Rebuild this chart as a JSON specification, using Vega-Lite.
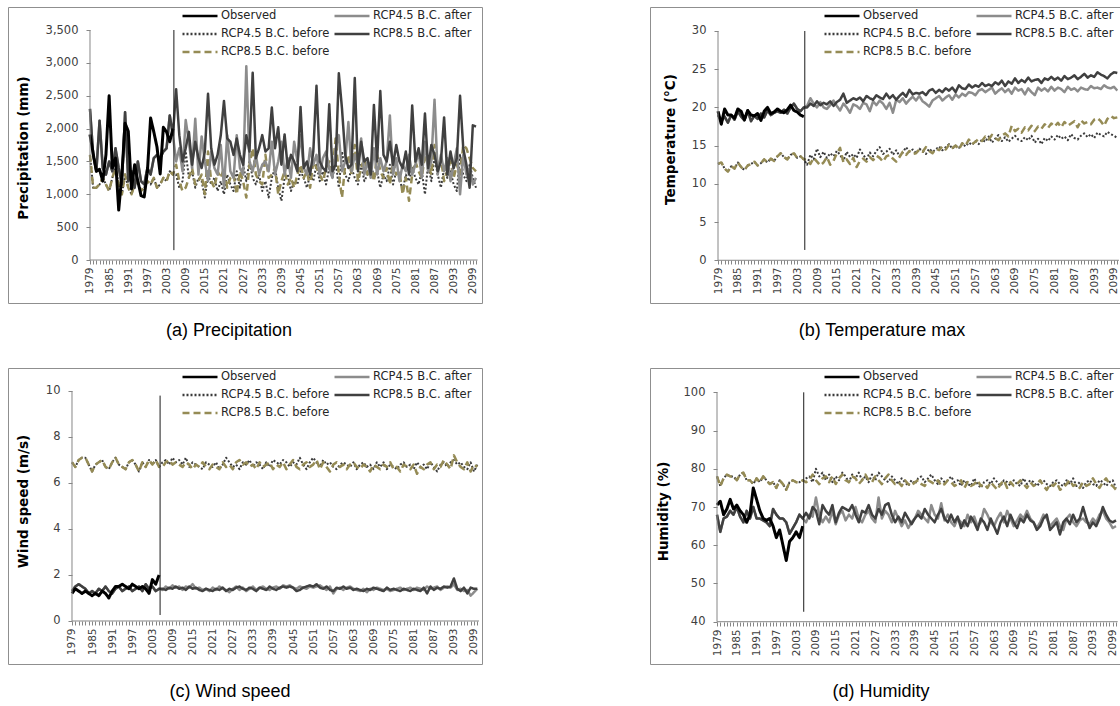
{
"$schema": "https://vega.github.io/schema/vega-lite/v6.json",
"padding": {"left": 7, "top": 6, "right": 0, "bottom": 0},
"background": "white",
"datasets": {
"names": [{"k":"o","s":"Observed"},{"k":"a4","s":"RCP4.5 B.C. after"},{"k":"b4","s":"RCP4.5 B.C. before"},{"k":"a8","s":"RCP8.5 B.C. after"},{"k":"b8","s":"RCP8.5 B.C. before"}],
"a": [
{"t":1979,"o":1910,"a4":2300,"b4":1600,"a8":2300,"b8":1600},
{"t":1980,"o":1620,"a4":1600,"b4":1100,"a8":1600,"b8":1100},
{"t":1981,"o":1350,"a4":1350,"b4":1100,"a8":1350,"b8":1100},
{"t":1982,"o":1380,"a4":2120,"b4":1150,"a8":2120,"b8":1150},
{"t":1983,"o":1200,"a4":1400,"b4":1250,"a8":1400,"b8":1250},
{"t":1984,"o":1600,"a4":1300,"b4":1150,"a8":1300,"b8":1150},
{"t":1985,"o":2500,"a4":1500,"b4":1050,"a8":1500,"b8":1050},
{"t":1986,"o":1400,"a4":1350,"b4":1250,"a8":1350,"b8":1250},
{"t":1987,"o":1550,"a4":1700,"b4":1400,"a8":1700,"b8":1400},
{"t":1988,"o":760,"a4":1400,"b4":1150,"a8":1400,"b8":1150},
{"t":1989,"o":1300,"a4":1150,"b4":1000,"a8":1150,"b8":1000},
{"t":1990,"o":2080,"a4":2250,"b4":1300,"a8":2250,"b8":1300},
{"t":1991,"o":1960,"a4":1200,"b4":1100,"a8":1200,"b8":1100},
{"t":1992,"o":1080,"a4":1350,"b4":1000,"a8":1350,"b8":1000},
{"t":1993,"o":1450,"a4":1100,"b4":1150,"a8":1100,"b8":1150},
{"t":1994,"o":1200,"a4":1500,"b4":1200,"a8":1500,"b8":1200},
{"t":1995,"o":980,"a4":1200,"b4":1050,"a8":1200,"b8":1050},
{"t":1996,"o":960,"a4":1150,"b4":1100,"a8":1150,"b8":1100},
{"t":1997,"o":1350,"a4":1400,"b4":1200,"a8":1400,"b8":1200},
{"t":1998,"o":2160,"a4":1300,"b4":1150,"a8":1300,"b8":1150},
{"t":1999,"o":1950,"a4":1550,"b4":1250,"a8":1550,"b8":1250},
{"t":2000,"o":1720,"a4":1600,"b4":1100,"a8":1600,"b8":1100},
{"t":2001,"o":1310,"a4":1550,"b4":1150,"a8":1550,"b8":1150},
{"t":2002,"o":2020,"a4":1650,"b4":1250,"a8":1650,"b8":1250},
{"t":2003,"o":1950,"a4":1700,"b4":1200,"a8":1700,"b8":1200},
{"t":2004,"o":1800,"a4":2200,"b4":1350,"a8":2200,"b8":1350},
{"t":2005,"o":2000,"a4":1900,"b4":1300,"a8":1900,"b8":1300},
{"t":2006,"a4":1500,"b4":1300,"a8":2600,"b8":1450},
{"t":2007,"a4":1700,"b4":1100,"a8":1900,"b8":1200},
{"t":2008,"a4":1350,"b4":1200,"a8":1500,"b8":1050},
{"t":2009,"a4":2130,"b4":1650,"a8":1700,"b8":1100},
{"t":2010,"a4":1800,"b4":1250,"a8":1950,"b8":1250},
{"t":2011,"a4":1400,"b4":1350,"a8":1450,"b8":1400},
{"t":2012,"a4":2150,"b4":1100,"a8":1800,"b8":1150},
{"t":2013,"a4":1300,"b4":1250,"a8":1550,"b8":1200},
{"t":2014,"a4":1880,"b4":1200,"a8":1400,"b8":1300},
{"t":2015,"a4":1500,"b4":950,"a8":1650,"b8":1000},
{"t":2016,"a4":1200,"b4":1300,"a8":2530,"b8":1650},
{"t":2017,"a4":1650,"b4":1150,"a8":1700,"b8":1200},
{"t":2018,"a4":1400,"b4":1250,"a8":1450,"b8":1100},
{"t":2019,"a4":1300,"b4":1050,"a8":1600,"b8":1350},
{"t":2020,"a4":1750,"b4":1200,"a8":1900,"b8":1250},
{"t":2021,"a4":1100,"b4":1000,"a8":2420,"b8":1400},
{"t":2022,"a4":1900,"b4":1300,"a8":1850,"b8":1100},
{"t":2023,"a4":1350,"b4":1150,"a8":1800,"b8":1250},
{"t":2024,"a4":1250,"b4":1050,"a8":1600,"b8":1300},
{"t":2025,"a4":1900,"b4":1350,"a8":1850,"b8":1000},
{"t":2026,"a4":1400,"b4":1100,"a8":1600,"b8":1350},
{"t":2027,"a4":1300,"b4":1450,"a8":1450,"b8":1200},
{"t":2028,"a4":2950,"b4":1200,"a8":1900,"b8":950},
{"t":2029,"a4":1500,"b4":1500,"a8":1650,"b8":1450},
{"t":2030,"a4":1350,"b4":1250,"a8":2850,"b8":1700},
{"t":2031,"a4":1600,"b4":1150,"a8":1550,"b8":1300},
{"t":2032,"a4":1300,"b4":1300,"a8":1700,"b8":1200},
{"t":2033,"a4":1450,"b4":1050,"a8":1900,"b8":1150},
{"t":2034,"a4":1500,"b4":1200,"a8":1650,"b8":1600},
{"t":2035,"a4":1350,"b4":950,"a8":1700,"b8":1250},
{"t":2036,"a4":1800,"b4":1250,"a8":2320,"b8":1300},
{"t":2037,"a4":1300,"b4":1400,"a8":1700,"b8":1400},
{"t":2038,"a4":1500,"b4":1100,"a8":2020,"b8":1000},
{"t":2039,"a4":1800,"b4":900,"a8":1450,"b8":1200},
{"t":2040,"a4":1300,"b4":1250,"a8":1910,"b8":1350},
{"t":2041,"a4":1550,"b4":1300,"a8":1400,"b8":1150},
{"t":2042,"a4":1250,"b4":1050,"a8":1600,"b8":1250},
{"t":2043,"a4":1800,"b4":1200,"a8":1500,"b8":1100},
{"t":2044,"a4":1500,"b4":1150,"a8":1350,"b8":1300},
{"t":2045,"a4":1900,"b4":1350,"a8":2330,"b8":1450},
{"t":2046,"a4":1400,"b4":1250,"a8":1400,"b8":1250},
{"t":2047,"a4":1300,"b4":1100,"a8":1500,"b8":1350},
{"t":2048,"a4":1700,"b4":1300,"a8":1300,"b8":1100},
{"t":2049,"a4":1450,"b4":1200,"a8":1650,"b8":1500},
{"t":2050,"a4":1600,"b4":1450,"a8":2650,"b8":1400},
{"t":2051,"a4":1300,"b4":1200,"a8":1500,"b8":1300},
{"t":2052,"a4":1550,"b4":1350,"a8":1400,"b8":1200},
{"t":2053,"a4":1650,"b4":1150,"a8":1350,"b8":1400},
{"t":2054,"a4":1400,"b4":1400,"a8":2370,"b8":1500},
{"t":2055,"a4":1250,"b4":1250,"a8":1350,"b8":1350},
{"t":2056,"a4":1700,"b4":1500,"a8":1450,"b8":1850},
{"t":2057,"a4":1900,"b4":1100,"a8":2840,"b8":1300},
{"t":2058,"a4":1350,"b4":1650,"a8":2300,"b8":950},
{"t":2059,"a4":1500,"b4":1300,"a8":1600,"b8":1450},
{"t":2060,"a4":2100,"b4":1200,"a8":1400,"b8":1600},
{"t":2061,"a4":1350,"b4":1400,"a8":1450,"b8":1300},
{"t":2062,"a4":1600,"b4":1250,"a8":2770,"b8":1750},
{"t":2063,"a4":1450,"b4":1150,"a8":1350,"b8":1200},
{"t":2064,"a4":1850,"b4":1450,"a8":1800,"b8":1400},
{"t":2065,"a4":1300,"b4":1200,"a8":1500,"b8":1550},
{"t":2066,"a4":1500,"b4":1300,"a8":1550,"b8":1300},
{"t":2067,"a4":1250,"b4":1500,"a8":1300,"b8":1450},
{"t":2068,"a4":1700,"b4":1250,"a8":2360,"b8":1200},
{"t":2069,"a4":1300,"b4":1350,"a8":1500,"b8":1600},
{"t":2070,"a4":1550,"b4":1100,"a8":2570,"b8":1350},
{"t":2071,"a4":1350,"b4":1300,"a8":1600,"b8":1250},
{"t":2072,"a4":1500,"b4":1200,"a8":1500,"b8":1400},
{"t":2073,"a4":2200,"b4":1450,"a8":1800,"b8":1150},
{"t":2074,"a4":1300,"b4":1150,"a8":1450,"b8":1500},
{"t":2075,"a4":1550,"b4":1350,"a8":1750,"b8":1300},
{"t":2076,"a4":1200,"b4":1250,"a8":1500,"b8":1350},
{"t":2077,"a4":1450,"b4":1050,"a8":1400,"b8":1000},
{"t":2078,"a4":1350,"b4":1300,"a8":1650,"b8":1250},
{"t":2079,"a4":1600,"b4":1200,"a8":1300,"b8":900},
{"t":2080,"a4":1300,"b4":1400,"a8":2350,"b8":1300},
{"t":2081,"a4":1450,"b4":1250,"a8":1500,"b8":1500},
{"t":2082,"a4":1650,"b4":1150,"a8":1700,"b8":1350},
{"t":2083,"a4":1250,"b4":1350,"a8":1450,"b8":1250},
{"t":2084,"a4":1800,"b4":1000,"a8":2230,"b8":1600},
{"t":2085,"a4":1350,"b4":1450,"a8":1400,"b8":1450},
{"t":2086,"a4":1500,"b4":1200,"a8":1750,"b8":1300},
{"t":2087,"a4":2440,"b4":1550,"a8":1600,"b8":1750},
{"t":2088,"a4":1300,"b4":1300,"a8":1350,"b8":1400},
{"t":2089,"a4":1600,"b4":1100,"a8":1500,"b8":1550},
{"t":2090,"a4":1350,"b4":1400,"a8":2170,"b8":1200},
{"t":2091,"a4":1550,"b4":1250,"a8":1300,"b8":1350},
{"t":2092,"a4":1200,"b4":1350,"a8":1650,"b8":1500},
{"t":2093,"a4":1450,"b4":1150,"a8":1400,"b8":1250},
{"t":2094,"a4":1700,"b4":1050,"a8":1550,"b8":1450},
{"t":2095,"a4":1000,"b4":1600,"a8":2500,"b8":1300},
{"t":2096,"a4":1600,"b4":1300,"a8":1700,"b8":1750},
{"t":2097,"a4":1300,"b4":1200,"a8":1450,"b8":1700},
{"t":2098,"a4":1400,"b4":1450,"a8":1100,"b8":1550},
{"t":2099,"a4":1150,"b4":1250,"a8":2050,"b8":1400},
{"t":2100,"a4":1250,"b4":1100,"a8":2030,"b8":1350}
],
"b": [
{"t":1979,"o":19.5,"a4":19.0,"b4":12.6,"a8":19.0,"b8":12.6},
{"t":1980,"o":17.8,"a4":18.2,"b4":12.8,"a8":18.2,"b8":12.8},
{"t":1981,"o":19.8,"a4":18.8,"b4":12.0,"a8":18.8,"b8":12.0},
{"t":1982,"o":19.0,"a4":18.0,"b4":11.6,"a8":18.0,"b8":11.6},
{"t":1983,"o":19.0,"a4":19.0,"b4":12.3,"a8":19.0,"b8":12.3},
{"t":1984,"o":18.6,"a4":18.4,"b4":12.0,"a8":18.4,"b8":12.0},
{"t":1985,"o":19.8,"a4":19.5,"b4":12.8,"a8":19.5,"b8":12.8},
{"t":1986,"o":19.5,"a4":18.8,"b4":12.2,"a8":18.8,"b8":12.2},
{"t":1987,"o":18.4,"a4":18.3,"b4":11.8,"a8":18.3,"b8":11.8},
{"t":1988,"o":19.6,"a4":19.6,"b4":12.4,"a8":19.6,"b8":12.4},
{"t":1989,"o":19.0,"a4":18.2,"b4":12.6,"a8":18.2,"b8":12.6},
{"t":1990,"o":18.9,"a4":18.9,"b4":12.9,"a8":18.9,"b8":12.9},
{"t":1991,"o":19.2,"a4":18.5,"b4":12.4,"a8":18.5,"b8":12.4},
{"t":1992,"o":18.3,"a4":19.2,"b4":12.7,"a8":19.2,"b8":12.7},
{"t":1993,"o":19.5,"a4":18.7,"b4":13.2,"a8":18.7,"b8":13.2},
{"t":1994,"o":20.0,"a4":19.6,"b4":12.8,"a8":19.6,"b8":12.8},
{"t":1995,"o":19.2,"a4":19.0,"b4":13.3,"a8":19.0,"b8":13.3},
{"t":1996,"o":19.4,"a4":19.3,"b4":13.0,"a8":19.3,"b8":13.0},
{"t":1997,"o":19.8,"a4":19.5,"b4":13.6,"a8":19.5,"b8":13.6},
{"t":1998,"o":19.5,"a4":19.3,"b4":14.0,"a8":19.3,"b8":14.0},
{"t":1999,"o":19.3,"a4":19.7,"b4":13.5,"a8":19.7,"b8":13.5},
{"t":2000,"o":19.7,"a4":19.2,"b4":13.2,"a8":19.2,"b8":13.2},
{"t":2001,"o":20.3,"a4":20.0,"b4":13.8,"a8":20.0,"b8":13.8},
{"t":2002,"o":19.6,"a4":20.5,"b4":14.0,"a8":20.5,"b8":14.0},
{"t":2003,"o":19.4,"a4":19.8,"b4":13.4,"a8":19.8,"b8":13.4},
{"t":2004,"o":19.0,"a4":19.5,"b4":13.6,"a8":19.5,"b8":13.6},
{"t":2005,"o":18.8,"a4":20.0,"b4":13.2,"a8":20.0,"b8":13.2},
{"t":2006,"a4":20.2,"b4":12.5,"a8":20.0,"b8":13.2},
{"t":2007,"a4":21.2,"b4":13.8,"a8":20.5,"b8":12.6},
{"t":2008,"a4":20.5,"b4":13.2,"a8":20.2,"b8":13.4},
{"t":2009,"a4":20.0,"b4":14.6,"a8":20.8,"b8":12.9},
{"t":2010,"a4":20.7,"b4":13.5,"a8":20.3,"b8":12.4},
{"t":2011,"a4":20.0,"b4":14.2,"a8":20.6,"b8":12.8},
{"t":2012,"a4":19.8,"b4":13.4,"a8":20.4,"b8":13.5},
{"t":2013,"a4":20.3,"b4":14.0,"a8":20.8,"b8":12.5},
{"t":2014,"a4":20.9,"b4":13.6,"a8":20.2,"b8":13.0},
{"t":2015,"a4":20.2,"b4":14.3,"a8":20.7,"b8":14.0},
{"t":2016,"a4":19.6,"b4":13.8,"a8":21.0,"b8":14.7},
{"t":2017,"a4":20.5,"b4":13.0,"a8":21.8,"b8":12.8},
{"t":2018,"a4":20.0,"b4":14.2,"a8":20.6,"b8":13.2},
{"t":2019,"a4":19.3,"b4":13.5,"a8":20.9,"b8":12.6},
{"t":2020,"a4":20.4,"b4":13.9,"a8":21.2,"b8":13.4},
{"t":2021,"a4":20.2,"b4":13.4,"a8":21.0,"b8":12.2},
{"t":2022,"a4":19.8,"b4":14.5,"a8":21.3,"b8":13.0},
{"t":2023,"a4":20.6,"b4":13.8,"a8":20.8,"b8":13.3},
{"t":2024,"a4":20.4,"b4":13.2,"a8":21.5,"b8":12.9},
{"t":2025,"a4":19.5,"b4":14.1,"a8":21.2,"b8":13.5},
{"t":2026,"a4":20.8,"b4":13.6,"a8":21.0,"b8":13.1},
{"t":2027,"a4":20.3,"b4":14.3,"a8":21.6,"b8":13.7},
{"t":2028,"a4":20.9,"b4":14.8,"a8":21.3,"b8":13.4},
{"t":2029,"a4":20.5,"b4":13.9,"a8":21.1,"b8":12.9},
{"t":2030,"a4":19.8,"b4":14.2,"a8":21.8,"b8":13.6},
{"t":2031,"a4":20.6,"b4":14.6,"a8":21.2,"b8":13.8},
{"t":2032,"a4":19.3,"b4":13.8,"a8":21.6,"b8":13.3},
{"t":2033,"a4":21.0,"b4":14.4,"a8":21.0,"b8":12.9},
{"t":2034,"a4":20.7,"b4":13.6,"a8":21.5,"b8":13.5},
{"t":2035,"a4":21.2,"b4":14.1,"a8":21.9,"b8":14.2},
{"t":2036,"a4":20.5,"b4":14.8,"a8":21.4,"b8":13.8},
{"t":2037,"a4":21.0,"b4":14.2,"a8":22.3,"b8":14.3},
{"t":2038,"a4":21.4,"b4":14.5,"a8":21.7,"b8":13.9},
{"t":2039,"a4":20.9,"b4":14.0,"a8":21.9,"b8":14.0},
{"t":2040,"a4":21.5,"b4":14.6,"a8":21.8,"b8":14.5},
{"t":2041,"a4":20.8,"b4":14.3,"a8":22.0,"b8":14.2},
{"t":2042,"a4":20.5,"b4":13.9,"a8":21.6,"b8":14.8},
{"t":2043,"a4":20.1,"b4":14.6,"a8":22.2,"b8":14.3},
{"t":2044,"a4":20.9,"b4":14.2,"a8":22.4,"b8":14.0},
{"t":2045,"a4":21.2,"b4":14.5,"a8":21.9,"b8":14.6},
{"t":2046,"a4":21.5,"b4":14.9,"a8":22.3,"b8":14.4},
{"t":2047,"a4":20.9,"b4":14.4,"a8":22.0,"b8":14.9},
{"t":2048,"a4":21.3,"b4":14.8,"a8":22.5,"b8":14.5},
{"t":2049,"a4":21.6,"b4":15.2,"a8":22.2,"b8":15.1},
{"t":2050,"a4":21.0,"b4":14.6,"a8":22.6,"b8":14.7},
{"t":2051,"a4":21.7,"b4":15.0,"a8":22.0,"b8":15.0},
{"t":2052,"a4":21.3,"b4":14.7,"a8":22.9,"b8":14.5},
{"t":2053,"a4":21.8,"b4":15.3,"a8":22.5,"b8":15.3},
{"t":2054,"a4":21.5,"b4":14.9,"a8":22.4,"b8":15.0},
{"t":2055,"a4":22.0,"b4":15.4,"a8":23.0,"b8":15.8},
{"t":2056,"a4":21.9,"b4":15.1,"a8":22.6,"b8":15.2},
{"t":2057,"a4":21.6,"b4":15.6,"a8":22.9,"b8":15.5},
{"t":2058,"a4":22.2,"b4":15.2,"a8":22.7,"b8":15.9},
{"t":2059,"a4":22.4,"b4":15.8,"a8":23.2,"b8":15.6},
{"t":2060,"a4":22.0,"b4":15.5,"a8":22.8,"b8":16.2},
{"t":2061,"a4":22.3,"b4":16.2,"a8":23.0,"b8":15.8},
{"t":2062,"a4":22.6,"b4":15.4,"a8":22.8,"b8":16.4},
{"t":2063,"a4":21.8,"b4":15.9,"a8":23.3,"b8":16.0},
{"t":2064,"a4":22.2,"b4":16.4,"a8":23.0,"b8":15.7},
{"t":2065,"a4":22.5,"b4":15.6,"a8":23.5,"b8":16.3},
{"t":2066,"a4":22.0,"b4":16.1,"a8":22.8,"b8":16.6},
{"t":2067,"a4":22.4,"b4":15.5,"a8":23.4,"b8":16.2},
{"t":2068,"a4":21.8,"b4":15.9,"a8":23.1,"b8":17.6},
{"t":2069,"a4":22.6,"b4":16.3,"a8":23.8,"b8":16.9},
{"t":2070,"a4":22.2,"b4":15.8,"a8":23.2,"b8":17.2},
{"t":2071,"a4":22.4,"b4":15.6,"a8":23.6,"b8":16.7},
{"t":2072,"a4":21.7,"b4":16.1,"a8":23.3,"b8":17.4},
{"t":2073,"a4":22.5,"b4":15.7,"a8":23.9,"b8":17.0},
{"t":2074,"a4":22.0,"b4":16.3,"a8":23.4,"b8":17.6},
{"t":2075,"a4":21.6,"b4":15.4,"a8":23.6,"b8":16.9},
{"t":2076,"a4":22.6,"b4":15.9,"a8":23.7,"b8":17.5},
{"t":2077,"a4":22.2,"b4":15.2,"a8":23.2,"b8":17.2},
{"t":2078,"a4":22.5,"b4":16.0,"a8":23.8,"b8":17.8},
{"t":2079,"a4":22.1,"b4":15.6,"a8":23.6,"b8":17.3},
{"t":2080,"a4":22.7,"b4":16.2,"a8":24.0,"b8":17.9},
{"t":2081,"a4":22.2,"b4":15.8,"a8":23.6,"b8":17.5},
{"t":2082,"a4":22.6,"b4":16.4,"a8":23.9,"b8":18.0},
{"t":2083,"a4":22.4,"b4":15.9,"a8":23.5,"b8":17.4},
{"t":2084,"a4":22.0,"b4":16.2,"a8":24.1,"b8":18.1},
{"t":2085,"a4":22.7,"b4":15.7,"a8":23.7,"b8":17.6},
{"t":2086,"a4":22.3,"b4":16.5,"a8":23.9,"b8":17.9},
{"t":2087,"a4":22.5,"b4":16.0,"a8":24.2,"b8":18.2},
{"t":2088,"a4":22.1,"b4":15.8,"a8":23.7,"b8":17.4},
{"t":2089,"a4":22.6,"b4":16.3,"a8":24.0,"b8":18.3},
{"t":2090,"a4":22.4,"b4":16.6,"a8":24.4,"b8":17.9},
{"t":2091,"a4":22.3,"b4":16.1,"a8":23.9,"b8":18.1},
{"t":2092,"a4":22.8,"b4":16.5,"a8":24.2,"b8":17.8},
{"t":2093,"a4":22.5,"b4":16.0,"a8":24.0,"b8":18.4},
{"t":2094,"a4":22.6,"b4":16.7,"a8":24.6,"b8":18.6},
{"t":2095,"a4":22.4,"b4":16.4,"a8":24.3,"b8":18.2},
{"t":2096,"a4":22.9,"b4":16.2,"a8":24.1,"b8":17.6},
{"t":2097,"a4":22.6,"b4":16.8,"a8":23.8,"b8":18.5},
{"t":2098,"a4":22.5,"b4":16.5,"a8":24.3,"b8":18.9},
{"t":2099,"a4":22.7,"b4":16.3,"a8":24.6,"b8":18.6},
{"t":2100,"a4":22.2,"b4":16.0,"a8":24.5,"b8":18.7}
],
"c": [
{"t":1979,"o":1.2,"a4":1.3,"b4":6.9,"a8":1.3,"b8":6.9},
{"t":1980,"o":1.4,"a4":1.5,"b4":6.7,"a8":1.5,"b8":6.7},
{"t":1981,"o":1.3,"a4":1.6,"b4":7.0,"a8":1.6,"b8":7.0},
{"t":1982,"o":1.2,"a4":1.5,"b4":7.1,"a8":1.5,"b8":7.1},
{"t":1983,"o":1.3,"a4":1.4,"b4":7.1,"a8":1.4,"b8":7.1},
{"t":1984,"o":1.2,"a4":1.2,"b4":6.8,"a8":1.2,"b8":6.8},
{"t":1985,"o":1.1,"a4":1.3,"b4":6.5,"a8":1.3,"b8":6.5},
{"t":1986,"o":1.2,"a4":1.2,"b4":6.8,"a8":1.2,"b8":6.8},
{"t":1987,"o":1.1,"a4":1.4,"b4":6.9,"a8":1.4,"b8":6.9},
{"t":1988,"o":1.3,"a4":1.3,"b4":7.0,"a8":1.3,"b8":7.0},
{"t":1989,"o":1.2,"a4":1.5,"b4":6.7,"a8":1.5,"b8":6.7},
{"t":1990,"o":1.0,"a4":1.3,"b4":6.6,"a8":1.3,"b8":6.6},
{"t":1991,"o":1.3,"a4":1.2,"b4":6.9,"a8":1.2,"b8":6.9},
{"t":1992,"o":1.5,"a4":1.4,"b4":7.1,"a8":1.4,"b8":7.1},
{"t":1993,"o":1.5,"a4":1.5,"b4":6.8,"a8":1.5,"b8":6.8},
{"t":1994,"o":1.6,"a4":1.3,"b4":6.7,"a8":1.3,"b8":6.7},
{"t":1995,"o":1.5,"a4":1.4,"b4":6.6,"a8":1.4,"b8":6.6},
{"t":1996,"o":1.4,"a4":1.5,"b4":6.9,"a8":1.5,"b8":6.9},
{"t":1997,"o":1.6,"a4":1.3,"b4":7.0,"a8":1.3,"b8":7.0},
{"t":1998,"o":1.5,"a4":1.4,"b4":6.8,"a8":1.4,"b8":6.8},
{"t":1999,"o":1.4,"a4":1.5,"b4":6.5,"a8":1.5,"b8":6.5},
{"t":2000,"o":1.5,"a4":1.3,"b4":6.9,"a8":1.3,"b8":6.9},
{"t":2001,"o":1.4,"a4":1.6,"b4":6.7,"a8":1.6,"b8":6.7},
{"t":2002,"o":1.2,"a4":1.4,"b4":7.0,"a8":1.4,"b8":7.0},
{"t":2003,"o":1.8,"a4":1.5,"b4":6.8,"a8":1.5,"b8":6.8},
{"t":2004,"o":1.6,"a4":1.3,"b4":7.0,"a8":1.3,"b8":7.0},
{"t":2005,"o":2.0,"a4":1.4,"b4":6.7,"a8":1.4,"b8":6.7},
{"t":2006,"a4":1.35,"b4":6.9,"a8":1.4,"b8":6.7},
{"t":2007,"a4":1.5,"b4":7.0,"a8":1.35,"b8":6.9},
{"t":2008,"a4":1.4,"b4":6.8,"a8":1.45,"b8":7.0},
{"t":2009,"a4":1.55,"b4":7.1,"a8":1.4,"b8":6.8},
{"t":2010,"a4":1.45,"b4":6.9,"a8":1.5,"b8":6.9},
{"t":2011,"a4":1.5,"b4":7.0,"a8":1.4,"b8":6.8},
{"t":2012,"a4":1.35,"b4":6.8,"a8":1.45,"b8":6.7},
{"t":2013,"a4":1.5,"b4":7.1,"a8":1.35,"b8":6.9},
{"t":2014,"a4":1.45,"b4":6.7,"a8":1.5,"b8":6.8},
{"t":2015,"a4":1.6,"b4":6.9,"a8":1.4,"b8":6.6},
{"t":2016,"a4":1.4,"b4":6.8,"a8":1.45,"b8":6.8},
{"t":2017,"a4":1.45,"b4":6.7,"a8":1.35,"b8":6.7},
{"t":2018,"a4":1.35,"b4":6.6,"a8":1.3,"b8":6.9},
{"t":2019,"a4":1.4,"b4":6.9,"a8":1.4,"b8":6.7},
{"t":2020,"a4":1.3,"b4":6.8,"a8":1.35,"b8":6.6},
{"t":2021,"a4":1.45,"b4":6.7,"a8":1.3,"b8":6.8},
{"t":2022,"a4":1.35,"b4":6.9,"a8":1.4,"b8":6.7},
{"t":2023,"a4":1.5,"b4":6.6,"a8":1.35,"b8":6.6},
{"t":2024,"a4":1.4,"b4":6.8,"a8":1.45,"b8":6.9},
{"t":2025,"a4":1.35,"b4":7.1,"a8":1.3,"b8":6.7},
{"t":2026,"a4":1.25,"b4":6.9,"a8":1.4,"b8":6.8},
{"t":2027,"a4":1.4,"b4":6.7,"a8":1.35,"b8":6.6},
{"t":2028,"a4":1.5,"b4":6.8,"a8":1.45,"b8":6.9},
{"t":2029,"a4":1.35,"b4":6.6,"a8":1.5,"b8":7.0},
{"t":2030,"a4":1.45,"b4":6.9,"a8":1.4,"b8":6.8},
{"t":2031,"a4":1.3,"b4":6.8,"a8":1.35,"b8":6.9},
{"t":2032,"a4":1.4,"b4":7.0,"a8":1.45,"b8":6.7},
{"t":2033,"a4":1.5,"b4":6.7,"a8":1.4,"b8":6.8},
{"t":2034,"a4":1.35,"b4":6.9,"a8":1.3,"b8":6.6},
{"t":2035,"a4":1.45,"b4":6.8,"a8":1.45,"b8":6.9},
{"t":2036,"a4":1.5,"b4":6.6,"a8":1.4,"b8":6.7},
{"t":2037,"a4":1.4,"b4":6.9,"a8":1.35,"b8":6.8},
{"t":2038,"a4":1.35,"b4":6.7,"a8":1.5,"b8":6.9},
{"t":2039,"a4":1.45,"b4":7.0,"a8":1.4,"b8":6.6},
{"t":2040,"a4":1.5,"b4":6.9,"a8":1.35,"b8":6.8},
{"t":2041,"a4":1.4,"b4":6.8,"a8":1.45,"b8":6.7},
{"t":2042,"a4":1.55,"b4":7.0,"a8":1.5,"b8":6.9},
{"t":2043,"a4":1.5,"b4":6.9,"a8":1.45,"b8":6.6},
{"t":2044,"a4":1.55,"b4":6.7,"a8":1.5,"b8":6.8},
{"t":2045,"a4":1.45,"b4":6.9,"a8":1.45,"b8":7.0},
{"t":2046,"a4":1.4,"b4":6.8,"a8":1.3,"b8":6.7},
{"t":2047,"a4":1.5,"b4":7.1,"a8":1.35,"b8":6.6},
{"t":2048,"a4":1.45,"b4":6.8,"a8":1.45,"b8":6.8},
{"t":2049,"a4":1.4,"b4":6.6,"a8":1.5,"b8":6.9},
{"t":2050,"a4":1.5,"b4":6.9,"a8":1.55,"b8":6.7},
{"t":2051,"a4":1.45,"b4":7.1,"a8":1.5,"b8":6.8},
{"t":2052,"a4":1.5,"b4":6.9,"a8":1.6,"b8":7.0},
{"t":2053,"a4":1.55,"b4":6.7,"a8":1.45,"b8":6.6},
{"t":2054,"a4":1.45,"b4":7.0,"a8":1.4,"b8":6.9},
{"t":2055,"a4":1.35,"b4":6.8,"a8":1.5,"b8":6.7},
{"t":2056,"a4":1.5,"b4":6.9,"a8":1.35,"b8":6.5},
{"t":2057,"a4":1.2,"b4":6.7,"a8":1.3,"b8":6.8},
{"t":2058,"a4":1.4,"b4":6.6,"a8":1.45,"b8":6.9},
{"t":2059,"a4":1.45,"b4":6.8,"a8":1.4,"b8":6.7},
{"t":2060,"a4":1.35,"b4":6.9,"a8":1.5,"b8":6.8},
{"t":2061,"a4":1.45,"b4":6.8,"a8":1.4,"b8":6.6},
{"t":2062,"a4":1.5,"b4":6.7,"a8":1.45,"b8":6.8},
{"t":2063,"a4":1.4,"b4":6.9,"a8":1.35,"b8":6.9},
{"t":2064,"a4":1.35,"b4":6.6,"a8":1.4,"b8":6.7},
{"t":2065,"a4":1.3,"b4":6.8,"a8":1.35,"b8":6.6},
{"t":2066,"a4":1.4,"b4":6.9,"a8":1.3,"b8":6.8},
{"t":2067,"a4":1.25,"b4":6.7,"a8":1.4,"b8":6.7},
{"t":2068,"a4":1.4,"b4":6.8,"a8":1.35,"b8":6.5},
{"t":2069,"a4":1.35,"b4":6.6,"a8":1.45,"b8":6.8},
{"t":2070,"a4":1.45,"b4":6.9,"a8":1.4,"b8":6.7},
{"t":2071,"a4":1.4,"b4":6.7,"a8":1.35,"b8":6.6},
{"t":2072,"a4":1.35,"b4":6.9,"a8":1.3,"b8":6.8},
{"t":2073,"a4":1.4,"b4":6.6,"a8":1.45,"b8":6.7},
{"t":2074,"a4":1.3,"b4":6.8,"a8":1.35,"b8":6.9},
{"t":2075,"a4":1.35,"b4":6.7,"a8":1.4,"b8":6.6},
{"t":2076,"a4":1.4,"b4":6.6,"a8":1.35,"b8":6.7},
{"t":2077,"a4":1.45,"b4":6.8,"a8":1.3,"b8":6.5},
{"t":2078,"a4":1.35,"b4":6.9,"a8":1.4,"b8":6.8},
{"t":2079,"a4":1.4,"b4":6.7,"a8":1.35,"b8":6.7},
{"t":2080,"a4":1.45,"b4":6.8,"a8":1.3,"b8":6.6},
{"t":2081,"a4":1.35,"b4":6.6,"a8":1.4,"b8":6.8},
{"t":2082,"a4":1.45,"b4":6.9,"a8":1.35,"b8":6.4},
{"t":2083,"a4":1.4,"b4":6.7,"a8":1.3,"b8":6.7},
{"t":2084,"a4":1.35,"b4":6.8,"a8":1.45,"b8":6.6},
{"t":2085,"a4":1.5,"b4":6.6,"a8":1.2,"b8":6.8},
{"t":2086,"a4":1.4,"b4":6.9,"a8":1.5,"b8":6.9},
{"t":2087,"a4":1.45,"b4":6.7,"a8":1.35,"b8":6.6},
{"t":2088,"a4":1.5,"b4":6.5,"a8":1.45,"b8":6.8},
{"t":2089,"a4":1.35,"b4":6.8,"a8":1.4,"b8":6.7},
{"t":2090,"a4":1.45,"b4":6.9,"a8":1.5,"b8":7.0},
{"t":2091,"a4":1.5,"b4":6.7,"a8":1.45,"b8":6.8},
{"t":2092,"a4":1.45,"b4":6.9,"a8":1.5,"b8":6.6},
{"t":2093,"a4":1.6,"b4":7.0,"a8":1.85,"b8":7.2},
{"t":2094,"a4":1.35,"b4":6.8,"a8":1.4,"b8":6.9},
{"t":2095,"a4":1.4,"b4":6.9,"a8":1.3,"b8":6.7},
{"t":2096,"a4":1.3,"b4":6.7,"a8":1.45,"b8":6.6},
{"t":2097,"a4":1.35,"b4":6.6,"a8":1.2,"b8":6.9},
{"t":2098,"a4":1.1,"b4":6.9,"a8":1.45,"b8":6.5},
{"t":2099,"a4":1.25,"b4":6.5,"a8":1.4,"b8":6.8},
{"t":2100,"a4":1.4,"b4":6.8,"a8":1.4,"b8":6.7}
],
"d": [
{"t":1979,"o":70.5,"a4":68,"b4":78,"a8":68,"b8":78},
{"t":1980,"o":71.5,"a4":63.5,"b4":75.5,"a8":63.5,"b8":75.5},
{"t":1981,"o":68,"a4":67,"b4":77.5,"a8":67,"b8":77.5},
{"t":1982,"o":69.5,"a4":67.5,"b4":78.5,"a8":67.5,"b8":78.5},
{"t":1983,"o":72,"a4":69,"b4":78,"a8":69,"b8":78},
{"t":1984,"o":69.5,"a4":68,"b4":78,"a8":68,"b8":78},
{"t":1985,"o":70.5,"a4":70,"b4":77,"a8":70,"b8":77},
{"t":1986,"o":69,"a4":67.5,"b4":78.5,"a8":67.5,"b8":78.5},
{"t":1987,"o":68,"a4":66,"b4":79,"a8":66,"b8":79},
{"t":1988,"o":66,"a4":69,"b4":77,"a8":69,"b8":77},
{"t":1989,"o":68,"a4":67,"b4":77,"a8":67,"b8":77},
{"t":1990,"o":75,"a4":70,"b4":76,"a8":70,"b8":76},
{"t":1991,"o":72,"a4":67,"b4":77.5,"a8":67,"b8":77.5},
{"t":1992,"o":69,"a4":67,"b4":76.5,"a8":67,"b8":76.5},
{"t":1993,"o":67,"a4":66.5,"b4":78,"a8":66.5,"b8":78},
{"t":1994,"o":66.5,"a4":66,"b4":77,"a8":66,"b8":77},
{"t":1995,"o":67,"a4":65,"b4":76,"a8":65,"b8":76},
{"t":1996,"o":65,"a4":69.5,"b4":76.5,"a8":69.5,"b8":76.5},
{"t":1997,"o":62,"a4":68,"b4":75,"a8":68,"b8":75},
{"t":1998,"o":64,"a4":67,"b4":77,"a8":67,"b8":77},
{"t":1999,"o":60,"a4":67,"b4":76,"a8":67,"b8":76},
{"t":2000,"o":56,"a4":66,"b4":74.5,"a8":66,"b8":74.5},
{"t":2001,"o":61,"a4":63,"b4":76.5,"a8":63,"b8":76.5},
{"t":2002,"o":62,"a4":64.5,"b4":77,"a8":64.5,"b8":77},
{"t":2003,"o":63.5,"a4":66,"b4":76.5,"a8":66,"b8":76.5},
{"t":2004,"o":62,"a4":68,"b4":76.5,"a8":68,"b8":76.5},
{"t":2005,"o":65,"a4":67,"b4":77,"a8":67,"b8":77},
{"t":2006,"a4":66,"b4":77.5,"a8":68.5,"b8":76.5},
{"t":2007,"a4":68,"b4":78,"a8":67,"b8":77},
{"t":2008,"a4":67.5,"b4":76.5,"a8":70,"b8":78.5},
{"t":2009,"a4":72.5,"b4":80,"a8":69,"b8":77},
{"t":2010,"a4":68,"b4":78,"a8":65.5,"b8":76},
{"t":2011,"a4":66,"b4":79,"a8":70.5,"b8":77.5},
{"t":2012,"a4":67.5,"b4":77,"a8":69,"b8":78},
{"t":2013,"a4":66,"b4":78.5,"a8":68,"b8":76.5},
{"t":2014,"a4":69,"b4":76.5,"a8":70.5,"b8":78},
{"t":2015,"a4":65.5,"b4":78,"a8":66,"b8":76},
{"t":2016,"a4":68,"b4":77,"a8":68.5,"b8":77.5},
{"t":2017,"a4":69,"b4":79,"a8":70,"b8":78.5},
{"t":2018,"a4":66.5,"b4":78,"a8":69.5,"b8":77},
{"t":2019,"a4":68,"b4":76.5,"a8":69,"b8":76.5},
{"t":2020,"a4":67,"b4":78.5,"a8":70.5,"b8":78},
{"t":2021,"a4":70,"b4":77.5,"a8":68,"b8":77.5},
{"t":2022,"a4":67,"b4":79,"a8":66,"b8":76},
{"t":2023,"a4":66,"b4":77,"a8":69,"b8":77},
{"t":2024,"a4":68,"b4":78,"a8":68.5,"b8":78.5},
{"t":2025,"a4":69,"b4":76.5,"a8":70.5,"b8":77},
{"t":2026,"a4":67,"b4":78.5,"a8":68,"b8":76.5},
{"t":2027,"a4":66,"b4":77,"a8":67,"b8":78},
{"t":2028,"a4":72.5,"b4":79,"a8":69.5,"b8":77},
{"t":2029,"a4":67,"b4":78,"a8":68,"b8":76},
{"t":2030,"a4":69,"b4":77,"a8":70.5,"b8":77.5},
{"t":2031,"a4":68,"b4":76.5,"a8":71,"b8":78.5},
{"t":2032,"a4":66,"b4":78,"a8":68,"b8":77},
{"t":2033,"a4":69,"b4":77,"a8":66,"b8":76},
{"t":2034,"a4":67,"b4":76,"a8":67.5,"b8":76.5},
{"t":2035,"a4":65,"b4":77.5,"a8":66,"b8":75.5},
{"t":2036,"a4":66.5,"b4":76.5,"a8":68.5,"b8":77},
{"t":2037,"a4":64.5,"b4":75.5,"a8":67,"b8":76},
{"t":2038,"a4":66,"b4":77,"a8":65.5,"b8":75.5},
{"t":2039,"a4":67,"b4":76,"a8":67,"b8":76.5},
{"t":2040,"a4":69,"b4":77.5,"a8":68,"b8":77},
{"t":2041,"a4":68,"b4":78,"a8":67,"b8":76},
{"t":2042,"a4":67,"b4":76.5,"a8":69.5,"b8":75.5},
{"t":2043,"a4":66,"b4":77.5,"a8":68,"b8":77},
{"t":2044,"a4":70.5,"b4":78.5,"a8":67,"b8":76.5},
{"t":2045,"a4":68,"b4":77,"a8":66,"b8":76},
{"t":2046,"a4":67,"b4":76,"a8":68,"b8":77},
{"t":2047,"a4":71,"b4":77.5,"a8":69.5,"b8":75.5},
{"t":2048,"a4":66.5,"b4":76.5,"a8":67,"b8":76},
{"t":2049,"a4":68,"b4":77,"a8":66,"b8":77},
{"t":2050,"a4":66,"b4":78,"a8":68,"b8":76.5},
{"t":2051,"a4":65,"b4":76.5,"a8":66,"b8":75.5},
{"t":2052,"a4":67,"b4":77,"a8":67.5,"b8":76},
{"t":2053,"a4":66,"b4":75.5,"a8":64.5,"b8":77},
{"t":2054,"a4":65,"b4":77,"a8":66.5,"b8":75},
{"t":2055,"a4":68,"b4":76,"a8":65,"b8":76.5},
{"t":2056,"a4":66,"b4":75.5,"a8":67.5,"b8":75.5},
{"t":2057,"a4":67.5,"b4":77.5,"a8":66,"b8":76},
{"t":2058,"a4":65,"b4":76,"a8":64,"b8":77},
{"t":2059,"a4":66,"b4":75,"a8":67,"b8":75.5},
{"t":2060,"a4":69.5,"b4":76.5,"a8":66,"b8":76},
{"t":2061,"a4":68,"b4":77,"a8":64,"b8":75},
{"t":2062,"a4":66,"b4":76,"a8":67,"b8":76.5},
{"t":2063,"a4":65,"b4":77.5,"a8":65,"b8":75.5},
{"t":2064,"a4":67,"b4":76.5,"a8":63,"b8":74.5},
{"t":2065,"a4":68.5,"b4":75.5,"a8":66,"b8":76},
{"t":2066,"a4":66,"b4":77,"a8":67.5,"b8":77},
{"t":2067,"a4":69,"b4":76.5,"a8":65,"b8":75},
{"t":2068,"a4":67,"b4":75.5,"a8":68,"b8":76.5},
{"t":2069,"a4":65,"b4":77,"a8":66,"b8":75.5},
{"t":2070,"a4":66.5,"b4":76,"a8":64.5,"b8":76},
{"t":2071,"a4":68,"b4":75.5,"a8":67,"b8":77},
{"t":2072,"a4":67,"b4":77.5,"a8":66,"b8":76},
{"t":2073,"a4":69,"b4":76,"a8":68,"b8":75},
{"t":2074,"a4":67,"b4":77,"a8":66.5,"b8":76.5},
{"t":2075,"a4":66,"b4":76.5,"a8":66,"b8":75.5},
{"t":2076,"a4":64.5,"b4":75.5,"a8":64,"b8":76},
{"t":2077,"a4":66,"b4":76.5,"a8":65,"b8":77},
{"t":2078,"a4":68,"b4":77,"a8":67,"b8":75.5},
{"t":2079,"a4":67,"b4":76,"a8":68,"b8":74.5},
{"t":2080,"a4":65,"b4":75.5,"a8":64,"b8":76},
{"t":2081,"a4":66,"b4":76.5,"a8":65,"b8":75.5},
{"t":2082,"a4":67,"b4":77,"a8":66,"b8":76.5},
{"t":2083,"a4":65,"b4":76,"a8":62.8,"b8":74.5},
{"t":2084,"a4":64,"b4":75.5,"a8":66,"b8":75},
{"t":2085,"a4":67,"b4":77,"a8":67,"b8":76},
{"t":2086,"a4":68,"b4":76,"a8":65.5,"b8":77},
{"t":2087,"a4":66,"b4":77.5,"a8":68,"b8":75.5},
{"t":2088,"a4":65,"b4":75.5,"a8":66,"b8":76},
{"t":2089,"a4":66.5,"b4":76.5,"a8":67,"b8":75},
{"t":2090,"a4":67,"b4":75,"a8":70,"b8":76.5},
{"t":2091,"a4":66,"b4":76.5,"a8":67,"b8":75.5},
{"t":2092,"a4":65.5,"b4":77,"a8":64.5,"b8":76},
{"t":2093,"a4":67,"b4":76,"a8":66,"b8":77.5},
{"t":2094,"a4":66,"b4":75.5,"a8":65,"b8":76},
{"t":2095,"a4":68,"b4":77,"a8":67,"b8":75},
{"t":2096,"a4":69,"b4":76.5,"a8":70,"b8":76.5},
{"t":2097,"a4":67,"b4":75.5,"a8":68,"b8":77.5},
{"t":2098,"a4":66,"b4":76.5,"a8":66.5,"b8":76},
{"t":2099,"a4":64.5,"b4":77,"a8":66,"b8":75.5},
{"t":2100,"a4":65,"b4":75,"a8":66.5,"b8":74.5}
]
},
"concat": [
{
"width": 474, "height": 296,
"title": {"text": "(a)  Precipitation", "dx": -16},
"resolve": {"axis": {"x": "independent", "y": "independent"}},
"layer": [
{"data": {"name": "a"},
"transform": [{"fold": ["b4","b8","a4","a8","o"], "as": ["k","v"]}, {"filter": {"field": "v", "valid": true}}, {"lookup": "k", "from": {"data": {"name": "names"}, "key": "k", "fields": ["s"]}}],
"mark": {"type": "line", "strokeJoin": "round"},
"encoding": {
"x": {"field": "t", "type": "quantitative", "scale": {"domain": [1953.3, 2101.88], "nice": false, "zero": false},
"axis": {"offset": -43, "title": null, "labelOverlap": false, "values": [1979,1980,1981,1982,1983,1984,1985,1986,1987,1988,1989,1990,1991,1992,1993,1994,1995,1996,1997,1998,1999,2000,2001,2002,2003,2004,2005,2006,2007,2008,2009,2010,2011,2012,2013,2014,2015,2016,2017,2018,2019,2020,2021,2022,2023,2024,2025,2026,2027,2028,2029,2030,2031,2032,2033,2034,2035,2036,2037,2038,2039,2040,2041,2042,2043,2044,2045,2046,2047,2048,2049,2050,2051,2052,2053,2054,2055,2056,2057,2058,2059,2060,2061,2062,2063,2064,2065,2066,2067,2068,2069,2070,2071,2072,2073,2074,2075,2076,2077,2078,2079,2080,2081,2082,2083,2084,2085,2086,2087,2088,2089,2090,2091,2092,2093,2094,2095,2096,2097,2098,2099,2100], "labelExpr": "(datum.value-1979)%6==0 ? ''+datum.value : ''"}},
"y": {"field": "v", "type": "quantitative", "scale": {"domain": [-654.3, 3850], "nice": false, "zero": false},
"axis": {"offset": -82, "values": [0,500,1000,1500,2000,2500,3000,3500], "format": ",.0f", "title": "Precipitation (mm)", "titleX": -66.5, "titleY": 140.5}},
"color": {"field": "s", "type": "nominal", "scale": {"domain": ["Observed","RCP4.5 B.C. after","RCP4.5 B.C. before","RCP8.5 B.C. after","RCP8.5 B.C. before"], "range": ["#000000","#8c8c8c","#3b3b3b","#404040","#958b55"]}, "legend": {"title": null}},
"strokeDash": {"field": "s", "type": "nominal", "scale": {"domain": ["Observed","RCP4.5 B.C. after","RCP4.5 B.C. before","RCP8.5 B.C. after","RCP8.5 B.C. before"], "range": [[1,0],[1,0],[2,2],[1,0],[7,4]]}, "legend": {"title": null}},
"strokeWidth": {"condition": [{"test": "datum.k=='o'", "value": 3}, {"test": "datum.k=='b4'", "value": 2}], "value": 2.5}
}},
{"data": {"values": [{}]}, "mark": {"type": "rule", "color": "#868686", "strokeWidth": 1}, "encoding": {"x": {"datum": 1979, "type": "quantitative", "axis": null}, "y": {"datum": 0, "type": "quantitative", "axis": null}, "y2": {"datum": 3500}}},
{"data": {"values": [{}]}, "mark": {"type": "rule", "color": "#868686", "strokeWidth": 1}, "encoding": {"x": {"datum": 1979, "type": "quantitative", "axis": null}, "x2": {"datum": 2100.5}, "y": {"datum": 0, "type": "quantitative", "axis": null}}},
{"data": {"values": [{}]}, "mark": {"type": "rule", "color": "#1a1a1a", "strokeWidth": 1}, "encoding": {"x": {"datum": 2005.3, "type": "quantitative", "axis": null}, "y": {"datum": 150, "type": "quantitative", "axis": null}, "y2": {"datum": 3500}}}
]
},
{
"width": 470, "height": 296,
"title": {"text": "(b)  Temperature max", "dx": -3},
"resolve": {"axis": {"x": "independent", "y": "independent"}},
"layer": [
{"data": {"name": "b"},
"transform": [{"fold": ["b4","b8","a4","a8","o"], "as": ["k","v"]}, {"filter": {"field": "v", "valid": true}}, {"lookup": "k", "from": {"data": {"name": "names"}, "key": "k", "fields": ["s"]}}],
"mark": {"type": "line", "strokeJoin": "round"},
"encoding": {
"x": {"field": "t", "type": "quantitative", "scale": {"domain": [1958.39, 2100.82], "nice": false, "zero": false},
"axis": {"offset": -43, "title": null, "labelOverlap": false, "values": [1979,1980,1981,1982,1983,1984,1985,1986,1987,1988,1989,1990,1991,1992,1993,1994,1995,1996,1997,1998,1999,2000,2001,2002,2003,2004,2005,2006,2007,2008,2009,2010,2011,2012,2013,2014,2015,2016,2017,2018,2019,2020,2021,2022,2023,2024,2025,2026,2027,2028,2029,2030,2031,2032,2033,2034,2035,2036,2037,2038,2039,2040,2041,2042,2043,2044,2045,2046,2047,2048,2049,2050,2051,2052,2053,2054,2055,2056,2057,2058,2059,2060,2061,2062,2063,2064,2065,2066,2067,2068,2069,2070,2071,2072,2073,2074,2075,2076,2077,2078,2079,2080,2081,2082,2083,2084,2085,2086,2087,2088,2089,2090,2091,2092,2093,2094,2095,2096,2097,2098,2099,2100], "labelExpr": "(datum.value-1979)%6==0 ? ''+datum.value : ''"}},
"y": {"field": "v", "type": "quantitative", "scale": {"domain": [-5.59, 33.14], "nice": false, "zero": false},
"axis": {"offset": -68, "values": [0,5,10,15,20,25,30], "format": ".0f", "title": "Temperature (°C)", "titleX": -48, "titleY": 132}},
"color": {"field": "s", "type": "nominal", "scale": {"domain": ["Observed","RCP4.5 B.C. after","RCP4.5 B.C. before","RCP8.5 B.C. after","RCP8.5 B.C. before"], "range": ["#000000","#8c8c8c","#3b3b3b","#404040","#958b55"]}, "legend": {"title": null}},
"strokeDash": {"field": "s", "type": "nominal", "scale": {"domain": ["Observed","RCP4.5 B.C. after","RCP4.5 B.C. before","RCP8.5 B.C. after","RCP8.5 B.C. before"], "range": [[1,0],[1,0],[2,2],[1,0],[7,4]]}, "legend": {"title": null}},
"strokeWidth": {"condition": [{"test": "datum.k=='o'", "value": 3}, {"test": "datum.k=='b4'", "value": 2}], "value": 2.5}
}},
{"data": {"values": [{}]}, "mark": {"type": "rule", "color": "#868686", "strokeWidth": 1}, "encoding": {"x": {"datum": 1979, "type": "quantitative", "axis": null}, "y": {"datum": 0, "type": "quantitative", "axis": null}, "y2": {"datum": 30}}},
{"data": {"values": [{}]}, "mark": {"type": "rule", "color": "#868686", "strokeWidth": 1}, "encoding": {"x": {"datum": 1979, "type": "quantitative", "axis": null}, "x2": {"datum": 2100.5}, "y": {"datum": 0, "type": "quantitative", "axis": null}}},
{"data": {"values": [{}]}, "mark": {"type": "rule", "color": "#1a1a1a", "strokeWidth": 1}, "encoding": {"x": {"datum": 2005.3, "type": "quantitative", "axis": null}, "y": {"datum": 1.35, "type": "quantitative", "axis": null}, "y2": {"datum": 30}}}
]
},
{
"width": 474, "height": 296,
"title": {"text": "(c)  Wind speed", "dx": -15},
"resolve": {"axis": {"x": "independent", "y": "independent"}},
"layer": [
{"data": {"name": "c"},
"transform": [{"fold": ["b4","b8","a4","a8","o"], "as": ["k","v"]}, {"filter": {"field": "v", "valid": true}}, {"lookup": "k", "from": {"data": {"name": "names"}, "key": "k", "fields": ["s"]}}],
"mark": {"type": "line", "strokeJoin": "round"},
"encoding": {
"x": {"field": "t", "type": "quantitative", "scale": {"domain": [1959.9, 2101.39], "nice": false, "zero": false},
"axis": {"offset": -43, "title": null, "labelOverlap": false, "values": [1979,1980,1981,1982,1983,1984,1985,1986,1987,1988,1989,1990,1991,1992,1993,1994,1995,1996,1997,1998,1999,2000,2001,2002,2003,2004,2005,2006,2007,2008,2009,2010,2011,2012,2013,2014,2015,2016,2017,2018,2019,2020,2021,2022,2023,2024,2025,2026,2027,2028,2029,2030,2031,2032,2033,2034,2035,2036,2037,2038,2039,2040,2041,2042,2043,2044,2045,2046,2047,2048,2049,2050,2051,2052,2053,2054,2055,2056,2057,2058,2059,2060,2061,2062,2063,2064,2065,2066,2067,2068,2069,2070,2071,2072,2073,2074,2075,2076,2077,2078,2079,2080,2081,2082,2083,2084,2085,2086,2087,2088,2089,2090,2091,2092,2093,2094,2095,2096,2097,2098,2099,2100], "labelExpr": "(datum.value-1979)%6==0 ? ''+datum.value : ''"}},
"y": {"field": "v", "type": "quantitative", "scale": {"domain": [-1.87, 11.0], "nice": false, "zero": false},
"axis": {"offset": -64, "values": [0,2,4,6,8,10], "format": ".0f", "title": "Wind speed (m/s)", "titleX": -49, "titleY": 133}},
"color": {"field": "s", "type": "nominal", "scale": {"domain": ["Observed","RCP4.5 B.C. after","RCP4.5 B.C. before","RCP8.5 B.C. after","RCP8.5 B.C. before"], "range": ["#000000","#8c8c8c","#3b3b3b","#404040","#958b55"]}, "legend": {"title": null}},
"strokeDash": {"field": "s", "type": "nominal", "scale": {"domain": ["Observed","RCP4.5 B.C. after","RCP4.5 B.C. before","RCP8.5 B.C. after","RCP8.5 B.C. before"], "range": [[1,0],[1,0],[2,2],[1,0],[7,4]]}, "legend": {"title": null}},
"strokeWidth": {"condition": [{"test": "datum.k=='o'", "value": 3}, {"test": "datum.k=='b4'", "value": 2}], "value": 2.5}
}},
{"data": {"values": [{}]}, "mark": {"type": "rule", "color": "#868686", "strokeWidth": 1}, "encoding": {"x": {"datum": 1979, "type": "quantitative", "axis": null}, "y": {"datum": 0, "type": "quantitative", "axis": null}, "y2": {"datum": 10}}},
{"data": {"values": [{}]}, "mark": {"type": "rule", "color": "#868686", "strokeWidth": 1}, "encoding": {"x": {"datum": 1979, "type": "quantitative", "axis": null}, "x2": {"datum": 2100.5}, "y": {"datum": 0, "type": "quantitative", "axis": null}}},
{"data": {"values": [{}]}, "mark": {"type": "rule", "color": "#1a1a1a", "strokeWidth": 1}, "encoding": {"x": {"datum": 2005.3, "type": "quantitative", "axis": null}, "y": {"datum": 0.26, "type": "quantitative", "axis": null}, "y2": {"datum": 9.8}}}
]
},
{
"width": 470, "height": 296,
"title": {"text": "(d)  Humidity", "dx": -4},
"resolve": {"axis": {"x": "independent", "y": "independent"}},
"layer": [
{"data": {"name": "d"},
"transform": [{"fold": ["b4","b8","a4","a8","o"], "as": ["k","v"]}, {"filter": {"field": "v", "valid": true}}, {"lookup": "k", "from": {"data": {"name": "names"}, "key": "k", "fields": ["s"]}}],
"mark": {"type": "line", "strokeJoin": "round"},
"encoding": {
"x": {"field": "t", "type": "quantitative", "scale": {"domain": [1958.68, 2101.21], "nice": false, "zero": false},
"axis": {"offset": -42, "title": null, "labelOverlap": false, "values": [1979,1980,1981,1982,1983,1984,1985,1986,1987,1988,1989,1990,1991,1992,1993,1994,1995,1996,1997,1998,1999,2000,2001,2002,2003,2004,2005,2006,2007,2008,2009,2010,2011,2012,2013,2014,2015,2016,2017,2018,2019,2020,2021,2022,2023,2024,2025,2026,2027,2028,2029,2030,2031,2032,2033,2034,2035,2036,2037,2038,2039,2040,2041,2042,2043,2044,2045,2046,2047,2048,2049,2050,2051,2052,2053,2054,2055,2056,2057,2058,2059,2060,2061,2062,2063,2064,2065,2066,2067,2068,2069,2070,2071,2072,2073,2074,2075,2076,2077,2078,2079,2080,2081,2082,2083,2084,2085,2086,2087,2088,2089,2090,2091,2092,2093,2094,2095,2096,2097,2098,2099,2100], "labelExpr": "(datum.value-1979)%6==0 ? ''+datum.value : ''"}},
"y": {"field": "v", "type": "quantitative", "scale": {"domain": [28.94, 106.36], "nice": false, "zero": false},
"axis": {"offset": -67, "values": [40,50,60,70,80,90,100], "format": ".0f", "title": "Humidity (%)", "titleX": -53.5, "titleY": 143}},
"color": {"field": "s", "type": "nominal", "scale": {"domain": ["Observed","RCP4.5 B.C. after","RCP4.5 B.C. before","RCP8.5 B.C. after","RCP8.5 B.C. before"], "range": ["#000000","#8c8c8c","#3b3b3b","#404040","#958b55"]}, "legend": {"title": null}},
"strokeDash": {"field": "s", "type": "nominal", "scale": {"domain": ["Observed","RCP4.5 B.C. after","RCP4.5 B.C. before","RCP8.5 B.C. after","RCP8.5 B.C. before"], "range": [[1,0],[1,0],[2,2],[1,0],[7,4]]}, "legend": {"title": null}},
"strokeWidth": {"condition": [{"test": "datum.k=='o'", "value": 3}, {"test": "datum.k=='b4'", "value": 2}], "value": 2.5}
}},
{"data": {"values": [{}]}, "mark": {"type": "rule", "color": "#868686", "strokeWidth": 1}, "encoding": {"x": {"datum": 1979, "type": "quantitative", "axis": null}, "y": {"datum": 40, "type": "quantitative", "axis": null}, "y2": {"datum": 100}}},
{"data": {"values": [{}]}, "mark": {"type": "rule", "color": "#868686", "strokeWidth": 1}, "encoding": {"x": {"datum": 1979, "type": "quantitative", "axis": null}, "x2": {"datum": 2100.5}, "y": {"datum": 40, "type": "quantitative", "axis": null}}},
{"data": {"values": [{}]}, "mark": {"type": "rule", "color": "#1a1a1a", "strokeWidth": 1}, "encoding": {"x": {"datum": 2005.3, "type": "quantitative", "axis": null}, "y": {"datum": 42.6, "type": "quantitative", "axis": null}, "y2": {"datum": 100}}}
]
}
],
"columns": 2,
"spacing": {"row": 65, "column": 168},
"bounds": "flush",
"resolve": {"scale": {"color": "independent", "strokeDash": "independent"}, "legend": {"color": "independent", "strokeDash": "independent"}},
"config": {
"view": {"stroke": "#8f8f8f", "strokeWidth": 1},
"title": {"orient": "bottom", "offset": 19, "anchor": "middle", "font": "Liberation Sans", "fontSize": 18, "fontWeight": "normal", "color": "#000000"},
"axis": {"domain": false, "grid": false, "tickColor": "#868686", "tickSize": 4, "labelFont": "DejaVu Sans", "labelColor": "#404040", "titleFont": "DejaVu Sans", "titleFontSize": 13.5, "titleFontWeight": "bold", "titleColor": "#000000"},
"axisX": {"labelAngle": 270, "labelFontSize": 10.5, "labelPadding": 3, "labelOverlap": false, "labelBound": false, "labelFlush": false},
"axisY": {"labelFontSize": 11.5, "labelPadding": 8, "titleAngle": 270, "titleBaseline": "middle", "titleAlign": "center"},
"legend": {"orient": "none", "legendX": 173, "legendY": 0, "direction": "horizontal", "columns": 2, "columnPadding": 3, "rowPadding": 0, "clipHeight": 18, "symbolType": "stroke", "symbolSize": 1225, "symbolStrokeWidth": 2.5, "labelFont": "DejaVu Sans", "labelFontSize": 11.5, "labelColor": "#262626", "labelOffset": 2, "padding": 0, "labelLimit": 300}
}
}
